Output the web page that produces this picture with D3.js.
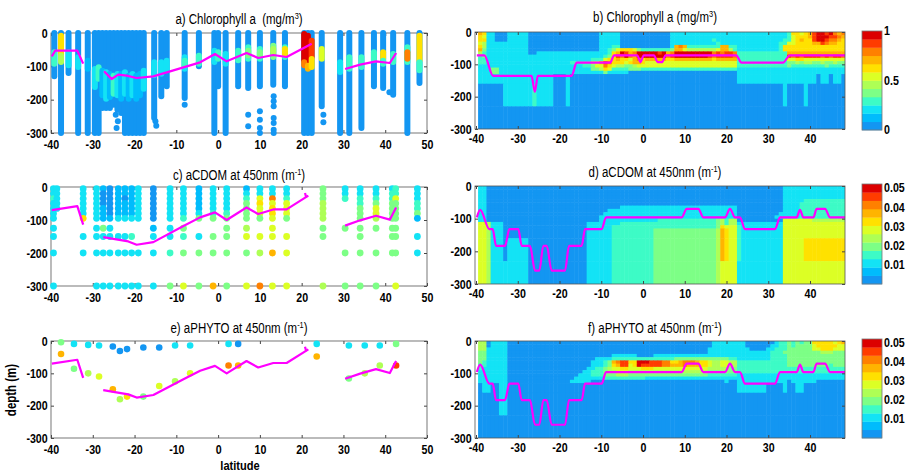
<!DOCTYPE html>
<html>
<head>
<meta charset="utf-8">
<script src="https://cdnjs.cloudflare.com/ajax/libs/d3/7.8.5/d3.min.js"></script>
<style>
  body { margin: 0; background: #fff; }
  svg text { font-family: "Liberation Sans Narrow", "Arial Narrow", "Liberation Sans", Arial, sans-serif; fill: #000; }
</style>
</head>
<body>
<svg id="svg" width="907" height="475"></svg>
<script>
var svg = d3.select("svg");

/*
 DATA
*/

var latTicksLeft = [-40, -30, -20, -10, 0, 10, 20, 30, 40, 50];
var latTicksRight = [-40, -30, -20, -10, 0, 10, 20, 30, 40];
var depthTicks = [0, -100, -200, -300];

// 12 colour levels, low -> high
var levelColors = ["#1396f2", "#00bcfc", "#13e3f5", "#3dfbc6", "#7dff86", "#aeff55",
                   "#dcff25", "#ffe100", "#ffb400", "#ff8000", "#ff3c00", "#dc0000"];

var chlMax = 1;
var absMax = 0.052;
var chlBarTicks = [0, 0.5, 1];
var absBarTicks = [0.01, 0.02, 0.03, 0.04, 0.05];

// a) chlorophyll profiles: [lat, bottom depth]
var chlProfiles = [
  [-39.2, -130], [-37.6, -300], [-35.8, -120], [-33.5, -300], [-31.2, -300],
  [-29.5, -300], [-28.6, -300], [-27.7, -225], [-26.8, -225], [-25.9, -225], [-25.0, -215],
  [-24.1, -230], [-23.2, -240], [-22.3, -300], [-21.4, -300], [-20.5, -300], [-19.6, -300],
  [-18.7, -300], [-17.8, -300],
  [-15.3, -255], [-13.6, -190], [-12.3, -160], [-8.0, -195], [-4.6, -100], [-0.9, -300],
  [0.0, -160], [1.8, -300], [4.8, -160], [7.2, -165], [10.0, -160], [13.2, -155], [16.0, -160],
  [20.6, -300], [21.5, -300], [22.4, -300], [24.8, -220], [29.2, -300], [31.4, -300],
  [34.3, -285], [37.3, -160], [39.5, -165], [41.9, -185], [45.3, -300], [48.2, -150]
];
// isolated deep samples: [lat, depth]
var chlDots = [
  [-24.5, -245], [-24.0, -265], [-24.3, -285], [-15.0, -265], [-14.8, -278], [-8.0, -215],
  [7.2, -245], [7.2, -280], [10.0, -235], [10.0, -260], [10.0, -285], [10.0, -300],
  [13.3, -190], [13.3, -205], [13.3, -220], [13.3, -255], [13.3, -270], [13.3, -290], [13.3, -300],
  [25.2, -245], [25.2, -268], [41.0, -178]
];
// coloured parts of the profiles: [lat, top, bottom, level]
var chlPatches = [
  [-39.2, -55, -95, 3], [-37.6, -5, -65, 7], [-37.6, -65, -90, 5], [-35.8, -55, -100, 2],
  [-33.5, -70, -105, 2], [-31.2, -80, -110, 1],
  [-29.5, -105, -165, 2], [-28.6, -100, -140, 3], [-27.7, -110, -190, 1], [-26.8, -115, -200, 2],
  [-25.9, -120, -195, 1], [-25.0, -125, -185, 3], [-24.1, -120, -190, 2], [-23.2, -120, -200, 1],
  [-22.3, -115, -185, 2], [-21.4, -125, -200, 1], [-20.5, -120, -190, 2], [-19.6, -125, -200, 1],
  [-18.7, -120, -190, 1], [-17.8, -110, -170, 2],
  [-15.3, -85, -130, 2], [-13.6, -85, -125, 2], [-12.3, -80, -115, 2], [-8.0, -70, -110, 2],
  [-8.0, -80, -100, 3], [-4.6, -65, -95, 3], [-0.9, -50, -90, 2], [0.0, -55, -80, 3],
  [1.8, -60, -95, 2], [4.8, -50, -85, 3], [7.2, -40, -80, 3], [7.2, -50, -70, 4],
  [10.0, -45, -80, 3], [10.0, -55, -70, 4], [13.2, -35, -75, 4], [13.2, -45, -60, 5],
  [16.0, -40, -75, 3], [16.0, -45, -65, 7],
  [20.6, 0, -85, 11], [21.5, -5, -95, 11], [22.4, -20, -75, 10], [20.6, -85, -100, 9],
  [21.5, -95, -110, 8], [22.4, -75, -105, 7], [24.8, -45, -80, 6],
  [29.2, -85, -120, 2], [31.4, -70, -110, 3], [34.3, -70, -105, 3], [37.3, -55, -85, 3],
  [39.5, -55, -80, 7], [39.5, -80, -95, 3], [41.9, -60, -90, 3], [45.3, -40, -90, 3],
  [45.3, -55, -80, 9], [48.2, -5, -85, 7], [48.2, -85, -115, 3]
];
var chlLine = [
  [[-39.8, -70], [-39.0, -53], [-33.7, -53], [-32.3, -92]],
  [[-27.3, -115], [-25.5, -138], [-23.9, -125], [-21.9, -128], [-19.5, -135], [-15.5, -130],
   [-10.7, -112], [-4.3, -88], [-0.75, -63], [2.05, -85], [6.8, -60], [9.6, -75], [13.2, -66],
   [16.4, -72], [22.4, -32]],
  [[30.4, -108], [34.0, -95], [37.8, -85], [41.1, -90], [42.6, -60]]
];

// c) aCDOM bottle samples: one level character per depth ('.' = no sample)
var cdomDepths = [-5, -20, -35, -50, -65, -80, -95, -125, -150, -200, -300];
var cdomStations = [
  [-39.4, "22322222222"], [-38.6, "22222......"], [-32.3, "2222227.22."], [-29.1, "22222222222"],
  [-27.5, "10001114222"], [-25.9, "00000012222"], [-23.9, "1111112.222"], [-22.3, "1101112.222"],
  [-20.7, "1111112.322"], [-19.1, "2222222..22"], [-15.5, "00000001222"], [-11.5, "22222222234"],
  [-8.3, "22222234346"], [-4.6, "1111124.244"], [-1.2, "2222234.448"], [2.05, "22222344444"],
  [6.8, "12344445646"], [10.0, "2267664.659"], [13.0, "22967766686"], [16.4, "2236664.666"],
  [25.1, "444555544.5"], [30.4, "223....4.44"], [34.0, "22334444444"], [37.8, "22346654.44"],
  [41.7, "2334444444."], [42.5, "33644444446"], [47.7, "2223341.22."]
];
var absLine = [
  [[-39.8, -70], [-33.7, -58], [-32.3, -114]],
  [[-27.5, -152], [-24.7, -158], [-21.5, -165], [-19.5, -175], [-15.5, -167], [-8.3, -118],
   [-4.3, -92], [-0.75, -77], [2.05, -100], [6.8, -62], [9.6, -82], [13.2, -68], [16.4, -68],
   [21.6, -26]],
  [[20.8, -18], [21.1, -32]],
  [[30.4, -117], [34.0, -101], [37.8, -87], [41.1, -99], [42.6, -62]]
];

// e) aPHYTO samples: [lat, depth, level]
var phytoDots = [
  [-37.6, -4, 4], [-37.6, -40, 8], [-34.5, -9, 2], [-34.5, -86, 4], [-31.1, -12, 2], [-31.1, -100, 5],
  [-28.5, -14, 2], [-28.5, -110, 6], [-25.2, -17, 0], [-25.2, -149, 8], [-23.5, -31, 0], [-23.5, -180, 5],
  [-21.8, -25, 0], [-21.8, -172, 7], [-17.9, -20, 0], [-17.9, -172, 4], [-14.1, -20, 0], [-14.1, -139, 6],
  [-10.3, -14, 2], [-10.3, -125, 5], [-6.7, -14, 2], [-6.7, -100, 6], [2.5, -9, 2], [2.5, -76, 9],
  [4.8, -9, 0], [4.8, -76, 8], [23.6, -9, 2], [23.6, -48, 8], [31.3, -14, 2], [31.3, -116, 4],
  [35.1, -14, 2], [35.1, -100, 5], [38.7, -14, 2], [38.7, -76, 5], [42.6, -9, 4], [42.6, -76, 10]
];

// b, d, f) gridded sections: 1 degree columns from lat -39, one level character per cell
var gridLatStart = -39;
var gridDepths = [0, -10, -20, -30, -40, -50, -60, -70, -80, -90, -100, -110, -120, -130, -160, -230, -300];
var chlGrid = [
  "8722000222 2200000000 0000000002 2222000000 0000002222 2222222222 2222222222 2222377678 abbab989",
  "7622000222 2200000000 0000000002 2222000000 0000002222 2222222222 2222222222 2222367778 abbbaa98",
  "7722000222 2200000000 0000000002 2222000000 0000002222 2222223222 2222222222 2223367877 abba9987",
  "6522222222 2200000000 0000000002 2222000000 0000002222 2222222322 2222222222 2233667777 88a98877",
  "7522222222 2200000000 0000000002 2233000000 0000002898 3333333388 3322222222 2237777777 77777777",
  "8422222222 2200000000 0000000002 2346777643 3333334886 5555555688 5322222222 2237777777 77777777",
  "5322222222 2200222222 2222222222 2378ba89bb bbbab89bbb bbbbbb9a9a a933333333 3333888888 88888888",
  "3422222222 2222222222 2222222222 347a9b98bb bbbbb9abbb bbbbba9aaa a933333333 3333a9a9aa aa9a9aa9",
  "3322222222 2222222222 2222222333 6778776897 8888877888 8888887888 8833333333 3333667766 66666666",
  "3322222222 2222222222 2233333558 a977767887 6666666666 6666666666 6633333333 3333445455 44544544",
  "2222222222 2222222222 2222233466 9765544566 6666666666 6666666666 6633333333 3333433333 33343333",
  "2224422222 2222222222 2222222445 7633334443 3333333333 3333333333 3322222222 2222222222 22222222",
  "2224422222 2222222222 2222222222 4222220000 0000000000 0000000000 0022222222 2222222222 22222222",
  "2222222222 2222222200 0200000000 0000000000 0000000000 0000000000 0022222222 2222222222 20220220",
  "0000002222 2223222200 0200000000 0000000000 0000000000 0000000000 0000000000 0002000020 00000000",
  "0000000000 0000000000 0000000000 0000000000 0000000000 0000000000 0000000000 0000000000 00000000"
];
var cdomGrid = [
  "2200000000 0000000000 0000000000 0000000000 0000000000 0000000000 0000000000 0002222222 22222222",
  "2200000000 0000000000 0000000000 0000000000 0000000000 0000000000 0000000000 0002222222 22222222",
  "2200000000 0000000000 0000000000 0000000000 0000000000 0000000000 0000000000 0002222222 22222222",
  "2200000000 0000000000 0000000000 0000000000 0000000000 0000000000 0000000000 0002222222 22222222",
  "2200000000 0000000000 0000000000 0000000000 0000000000 0000000000 0000000000 0002222233 33333333",
  "2200000000 0000000000 0000000000 0000000000 0000000000 0000000000 0000000000 0002222333 33333333",
  "2200000000 0000000000 0000000000 0000222222 2222222222 2222222222 2200000000 0002222333 33333333",
  "2200000000 0000000000 0000000000 0222222222 2222222222 2222222222 2200000000 0002222333 33333333",
  "2200000000 0000000000 0000000000 2222222222 2222222222 2222222222 2200000000 0022222333 33333333",
  "2200000000 0000000000 0000000002 2222222222 2222222222 2222222222 2200000000 0222222333 33333333",
  "2200000000 0000000000 0000000002 2222222222 2223333333 3333333453 5500000000 0006666666 55555555",
  "6652220000 0000000000 0000002222 2222333333 3333333333 3333333453 5522222222 2226666666 66666666",
  "6652220000 0000000000 0000002222 2233333333 3333333333 3333333476 6632222222 2226666666 66666666",
  "6652220000 0000000000 0000002222 2233333333 3344444444 4444444587 6632222222 2226666666 66666666",
  "6652220222 2200000000 0000002222 2233333333 3344444444 4444444587 6632222222 2226666677 77777777",
  "6652222222 2200000000 0000002222 2233333333 3344444444 4444444566 6622222222 2226666666 66666666"
];
var phytoGrid = [
  "5502222000 0000000000 0000000000 0000000000 0000000000 0000002222 2222000000 0233434344 77777678",
  "5502222000 0000000000 0000000000 0000000000 0000000000 0000002222 2222000000 2233434444 67777766",
  "5522222000 0000000000 0000000000 0000000000 0000000000 0000022222 2222200002 2333444444 66777666",
  "4422222000 0000000000 0000000000 0000000000 0000000000 0000022222 2222222222 3334444444 44555444",
  "4422222000 0000000000 0000000000 0022222200 0022222222 2222222222 2222222222 3333444444 44444444",
  "4422222000 0000000000 0000000022 2233333333 3333333444 4444444444 3322222222 3333444444 44444444",
  "4322222000 0000000000 0000000222 3489aa77bb baaa997789 9987765566 5533333333 3333444444 44444444",
  "3322222000 0000000000 0000000222 3478aa67ba aaaa998889 8887765566 5533333333 3333444444 44443444",
  "3222222000 0000000000 0000002233 4566776667 7766666666 6666655555 4433333333 3333333333 33333333",
  "2222222000 0000000000 0000022333 4556665555 5555555555 5555544444 4433333333 3333333333 33333333",
  "2222222000 0000000000 0000222333 4445554444 4444444444 4444433333 3322222222 2222222222 22222222",
  "2222222000 0000000000 0002222222 3333333333 2222222222 2222222222 2222222222 2222222222 22222222",
  "2222222000 0000000000 0022222000 0000000000 0000000000 0000000002 0022222222 2222022222 20000000",
  "0220022000 0000000000 0000000000 0000000000 0000000000 0000000000 0022222220 0002002200 00000000",
  "0000022000 0000000000 0000000000 0000000000 0000000000 0000000000 0000000000 0000000000 00000000",
  "0000000000 0000000000 0000000000 0000000000 0000000000 0000000000 0000000000 0000000000 00000000"
];
// mixed layer line on the gridded sections
var chlGridLine = [[-39.8, -72], [-38.0, -72], [-35.9, -136], [-26.7, -136], [-25.9, -185], [-25.2, -136],
  [-17.1, -136], [-15.9, -95], [-7.9, -95], [-6.9, -72], [-1.4, -72], [-0.6, -93], [0.2, -72],
  [2.6, -72], [3.5, -93], [4.6, -93], [5.4, -72], [22.3, -72], [23.6, -95], [33.5, -95],
  [35.2, -72], [48.4, -72]];
var absGridLine = [[-39.8, -96], [-39.0, -73], [-36.8, -132], [-36.0, -132], [-35.2, -183], [-33.05, -183],
  [-32.0, -132], [-29.86, -132], [-29.06, -183], [-27.07, -183], [-25.87, -259], [-24.83, -259],
  [-23.87, -183], [-23.07, -183], [-21.88, -259], [-18.68, -259], [-17.72, -183], [-14.69, -183],
  [-13.89, -132], [-9.9, -132], [-8.86, -96], [9.26, -96], [10.46, -70], [13.25, -70], [14.45, -96],
  [19.64, -96], [20.84, -70], [22.04, -96], [23.23, -96], [24.43, -132], [31.62, -132], [32.81, -96],
  [36.8, -96], [37.6, -73], [38.4, -96], [40.8, -96], [41.6, -70], [43.6, -70], [44.8, -96], [48.4, -96]];

/*
 LAYOUT
*/
var leftX = d3.scaleLinear().domain([-40, 50]).range([51, 427]);
var rightX = d3.scaleLinear().domain([-40.24, 48.38]).range([475, 845]);
var leftRows = [[33, 133], [187, 286], [341, 438]];
var rightRows = [[32, 129], [186, 284], [341, 438]];
var barRows = [[31, 130], [184, 284], [339, 438]];
var barX = 862, barW = 20;
var magenta = "#ff00ff";
var squeeze = 0.82; // no narrow font installed: squeeze text horizontally

function depthScale(row) {
  return d3.scaleLinear().domain([-300, 0]).range([row[1], row[0]]);
}

// quantized colour from a level index
function levelColor(level, max) {
  var q = d3.scaleQuantize().domain([0, max]).range(levelColors);
  return q((level + 0.5) * max / 12);
}

function styleText(sel, size, bold) {
  sel.style("font-size", size + "px").style("font-weight", bold ? "bold" : "normal");
}

// narrow a text around its anchor point ax
function narrow(sel, ax) {
  sel.attr("transform", "translate(" + ax + ",0) scale(" + squeeze + ",1) translate(" + (-ax) + ",0)");
}

// frame, inward ticks on all four sides, labels bottom and left
function drawAxes(x, y, xTicks, pad) {
  var x0 = x.range()[0], x1 = x.range()[1], top = y.range()[1], bottom = y.range()[0];
  var g = svg.append("g");
  g.append("g").attr("transform", "translate(0," + bottom + ")")
    .call(d3.axisBottom(x).tickValues(xTicks).tickSizeInner(-3).tickSizeOuter(0).tickPadding(pad).tickFormat(String));
  g.append("g").attr("transform", "translate(0," + top + ")")
    .call(d3.axisTop(x).tickValues(xTicks).tickSizeInner(-3).tickSizeOuter(0).tickFormat(""));
  g.append("g").attr("transform", "translate(" + x0 + ",0)")
    .call(d3.axisLeft(y).tickValues(depthTicks).tickSizeInner(-3).tickSizeOuter(0).tickPadding(4).tickFormat(String));
  g.append("g").attr("transform", "translate(" + x1 + ",0)")
    .call(d3.axisRight(y).tickValues(depthTicks).tickSizeInner(-3).tickSizeOuter(0).tickFormat(""));
  g.selectAll(".domain").remove();
  g.selectAll(".tick line").attr("stroke", "#444");
  var labels = g.selectAll("text");
  styleText(labels, 13, true);
  labels.attr("transform", "scale(" + squeeze + ",1)");
  g.append("rect").attr("x", x0).attr("y", top).attr("width", x1 - x0).attr("height", bottom - top)
    .attr("fill", "none").attr("stroke", "#555").attr("stroke-width", 0.8);
}

function addTitle(x, y, main, sup) {
  var t = svg.append("text").attr("x", x).attr("y", y).attr("text-anchor", "middle").style("white-space", "pre");
  styleText(t, 14, false);
  t.append("tspan").text(main);
  t.append("tspan").attr("dy", -5).style("font-size", "9px").text(sup);
  t.append("tspan").attr("dy", 5).text(")");
  narrow(t, x);
}

function drawLines(segments, x, y, curve, clip) {
  var line = d3.line().x(function (d) { return x(d[0]); }).y(function (d) { return y(d[1]); }).curve(curve);
  var g = svg.append("g");
  if (clip) g.attr("clip-path", "url(#" + clip + ")");
  segments.forEach(function (seg) {
    g.append("path").attr("d", line(seg)).attr("fill", "none")
      .attr("stroke", magenta).attr("stroke-width", 2.2).attr("stroke-linejoin", "round");
  });
}

function drawGrid(rows, max, x, y, clip) {
  var g = svg.append("g").attr("clip-path", "url(#" + clip + ")");
  rows.forEach(function (row, r) {
    row.replace(/ /g, "").split("").forEach(function (ch, i) {
      var lat = gridLatStart + i;
      g.append("rect")
        .attr("x", x(lat - 0.5)).attr("width", x(lat + 0.5) - x(lat - 0.5) + 0.5)
        .attr("y", y(gridDepths[r])).attr("height", y(gridDepths[r + 1]) - y(gridDepths[r]) + 0.5)
        .attr("fill", levelColor(parseInt(ch, 12), max));
    });
  });
}

function drawColorbar(row, ticks, domainMax) {
  var s = d3.scaleLinear().domain([0, domainMax]).range([row[1], row[0]]);
  var g = svg.append("g");
  levelColors.forEach(function (c, i) {
    var v0 = i * domainMax / 12, v1 = (i + 1) * domainMax / 12;
    g.append("rect").attr("x", barX).attr("width", barW)
      .attr("y", s(v1)).attr("height", s(v0) - s(v1) + 0.3).attr("fill", c);
  });
  g.append("rect").attr("x", barX).attr("y", row[0]).attr("width", barW).attr("height", row[1] - row[0])
    .attr("fill", "none").attr("stroke", "#777").attr("stroke-width", 0.8);
  ticks.forEach(function (t) {
    var lx = barX + barW + 2;
    var lab = g.append("text").attr("x", lx).attr("y", s(t) + 4.5).text(String(t));
    styleText(lab, 13, true);
    narrow(lab, lx);
  });
}

// clip paths for the gridded panels
var defs = svg.append("defs");
rightRows.forEach(function (row, k) {
  defs.append("clipPath").attr("id", "clipR" + k).append("rect")
    .attr("x", 475).attr("y", row[0]).attr("width", 370).attr("height", row[1] - row[0]);
});

/*
 LEFT COLUMN
*/
// a) chlorophyll profiles
var yA = depthScale(leftRows[0]);
drawAxes(leftX, yA, latTicksLeft, 7);
chlProfiles.forEach(function (p) {
  svg.append("rect").attr("x", leftX(p[0]) - 3).attr("width", 6)
    .attr("y", yA(0) - 3).attr("height", yA(p[1]) - yA(0) + 6).attr("rx", 3)
    .attr("fill", levelColor(0, chlMax));
});
chlDots.forEach(function (d) {
  svg.append("circle").attr("cx", leftX(d[0])).attr("cy", yA(d[1])).attr("r", 3)
    .attr("fill", levelColor(0, chlMax));
});
chlPatches.forEach(function (p) {
  svg.append("rect").attr("x", leftX(p[0]) - 3).attr("width", 6)
    .attr("y", yA(p[1]) - 2).attr("height", yA(p[2]) - yA(p[1]) + 4).attr("rx", 3)
    .attr("fill", levelColor(p[3], chlMax));
});
drawLines(chlLine, leftX, yA, d3.curveLinear);
addTitle(239, 24, "a) Chlorophyll a  (mg/m", "3");

// c) aCDOM samples
var yC = depthScale(leftRows[1]);
drawAxes(leftX, yC, latTicksLeft, 7);
cdomStations.forEach(function (s) {
  s[1].split("").forEach(function (ch, k) {
    if (ch === ".") return;
    svg.append("circle").attr("cx", leftX(s[0])).attr("cy", yC(cdomDepths[k])).attr("r", 3.4)
      .attr("fill", levelColor(parseInt(ch, 12), absMax));
  });
});
drawLines(absLine, leftX, yC, d3.curveLinear);
addTitle(239, 180, "c) aCDOM at 450nm (m", "-1");

// e) aPHYTO samples
var yE = depthScale(leftRows[2]);
drawAxes(leftX, yE, latTicksLeft, 7);
phytoDots.forEach(function (d) {
  svg.append("circle").attr("cx", leftX(d[0])).attr("cy", yE(d[1])).attr("r", 3.3)
    .attr("fill", levelColor(d[2], absMax));
});
drawLines(absLine, leftX, yE, d3.curveLinear);
addTitle(239, 333, "e) aPHYTO at 450nm (m", "-1");

var depthLabel = svg.append("text").attr("transform", "translate(16,390) rotate(-90) scale(" + squeeze + ",1)")
  .attr("text-anchor", "middle").text("depth (m)");
styleText(depthLabel, 14, true);
var latLabel = svg.append("text").attr("x", 240).attr("y", 470).attr("text-anchor", "middle").text("latitude");
styleText(latLabel, 13.5, true);
narrow(latLabel, 240);

/*
 RIGHT COLUMN
*/
var grids = [chlGrid, cdomGrid, phytoGrid];
var gridMax = [chlMax, absMax, absMax];
var gridLines = [chlGridLine, absGridLine, absGridLine];
var rightTitles = [["b) Chlorophyll a (mg/m", "3", 22], ["d) aCDOM at 450nm (m", "-1", 177], ["f) aPHYTO at 450nm (m", "-1", 333]];

grids.forEach(function (grid, k) {
  var y = depthScale(rightRows[k]);
  drawGrid(grid, gridMax[k], rightX, y, "clipR" + k);
  drawLines([gridLines[k]], rightX, y, d3.curveMonotoneX, "clipR" + k);
  drawAxes(rightX, y, latTicksRight, 5);
  addTitle(655, rightTitles[k][2], rightTitles[k][0], rightTitles[k][1]);
  if (k === 0) drawColorbar(barRows[k], chlBarTicks, chlMax);
  else drawColorbar(barRows[k], absBarTicks, absMax);
});
</script>
</body>
</html>
